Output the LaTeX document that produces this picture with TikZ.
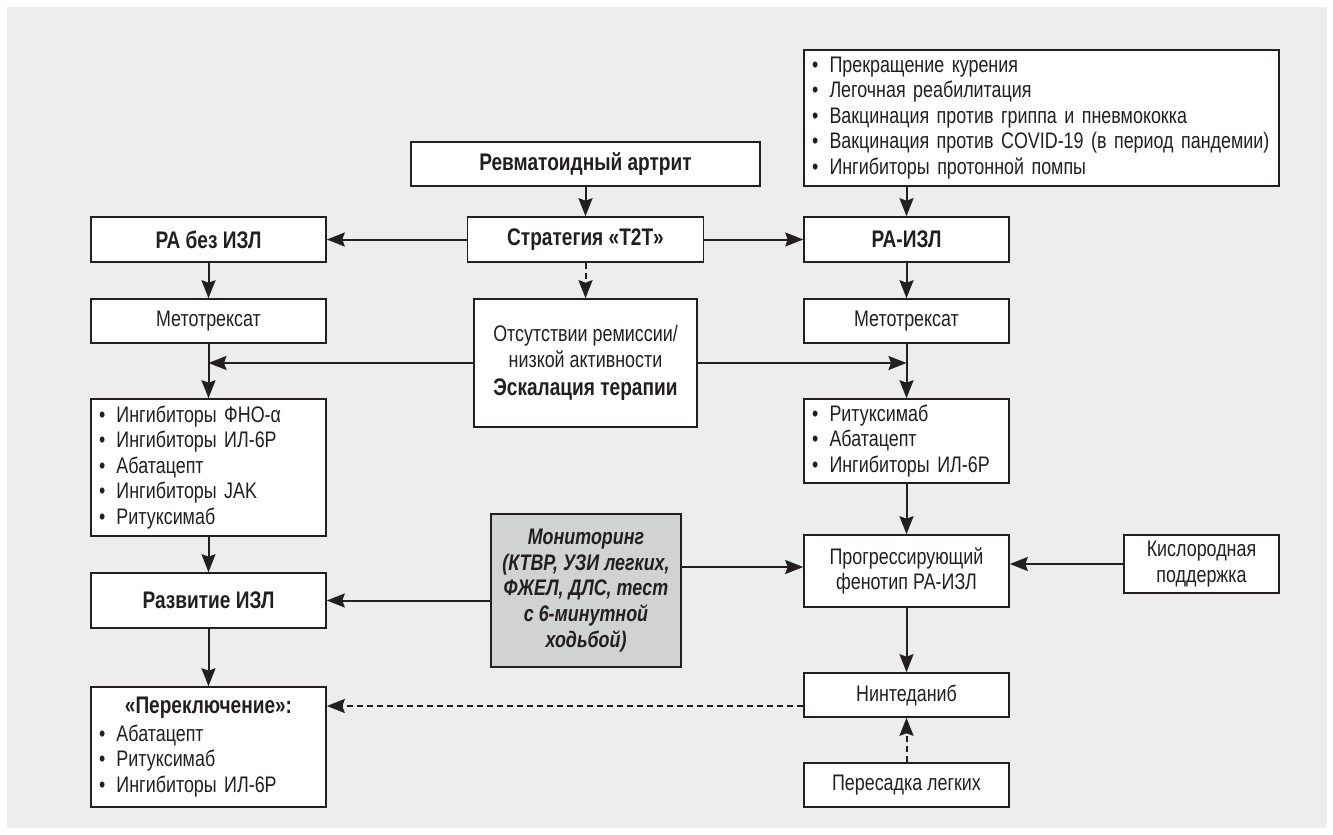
\documentclass[tikz,border=0pt]{standalone}
\usepackage{fontspec}
\setmainfont{Liberation Sans}[FakeStretch=0.795]
\usetikzlibrary{arrows.meta}
\definecolor{ink}{HTML}{231F20}
\definecolor{bgc}{HTML}{EDEDED}
\definecolor{monc}{HTML}{D1D2D4}
\newcommand{\bul}{•\hspace{0.5em}}
\begin{document}
\begin{tikzpicture}[x=1pt,y=-1pt,
 box/.style={draw=ink, line width=1.6pt, fill=white, text=ink, inner sep=0pt, align=center, font=\fontsize{22.5}{25.5}\selectfont},
 head/.style={box, font=\fontsize{24}{27}\selectfont\bfseries},
 lst/.style={box, align=left, inner xsep=8pt},
 arr/.style={draw=ink, line width=2pt, -{Stealth[length=18pt,width=14pt,inset=2.5pt]}},
 darr/.style={arr, dash pattern=on 6pt off 4pt},
]
\fill[white] (0,0) rectangle (1333,835);
\useasboundingbox (0,0) rectangle (1333,835);
\fill[bgc] (7,7) rectangle (1327,828);

\node[head, minimum width=349pt, minimum height=44pt] (rheum) at (585.5,164) {Ревматоидный артрит};
\node[head, minimum width=236pt, minimum height=45pt] (t2t) at (585.5,239.5) {Стратегия «Т2Т»};
\node[head, minimum width=235pt, minimum height=45pt] (nozl) at (208.5,239.5) {РА без ИЗЛ};
\node[head, minimum width=205pt, minimum height=45pt] (raizl) at (906.5,239.5) {РА-ИЗЛ};
\node[lst, text width=459pt, minimum height=136pt] (top) at (1041.5,118) {\bul Прекращение курения\\\bul Легочная реабилитация\\\bul Вакцинация против гриппа и пневмококка\\\bul Вакцинация против COVID-19 (в период пандемии)\\\bul Ингибиторы протонной помпы};
\node[box, minimum width=235pt, minimum height=44pt] (mtxL) at (208.5,321) {Метотрексат};
\node[box, minimum width=205pt, minimum height=44pt] (mtxR) at (906.5,321) {Метотрексат};
\node[box, minimum width=223pt, minimum height=128pt] (esc) at (585.5,363) {Отсутствии ремиссии/\\низкой активности\\[3pt]{\fontsize{24}{27}\selectfont\bfseries Эскалация терапии}};
\node[lst, text width=219pt, minimum height=137pt] (listL) at (208.5,467.5) {\bul Ингибиторы ФНО-α\\\bul Ингибиторы ИЛ-6Р\\\bul Абатацепт\\\bul Ингибиторы JAK\\\bul Ритуксимаб};
\node[lst, text width=189pt, minimum height=84pt] (listR) at (906.5,441) {\bul Ритуксимаб\\\bul Абатацепт\\\bul Ингибиторы ИЛ-6Р};
\node[box, fill=monc, minimum width=190pt, minimum height=153pt, font=\fontsize{22.5}{25.7}\selectfont\bfseries\itshape] (mon) at (586,590.5) {Мониторинг\\(КТВР, УЗИ легких,\\ФЖЕЛ, ДЛС, тест\\с 6-минутной\\ходьбой)};
\node[box, minimum width=205pt, minimum height=72pt] (prog) at (906.5,571) {Прогрессирующий\\фенотип РА-ИЗЛ};
\node[box, minimum width=155pt, minimum height=58pt] (oxy) at (1201.5,564) {Кислородная\\поддержка};
\node[head, minimum width=235pt, minimum height=55pt] (razv) at (208.5,600.5) {Развитие ИЗЛ};
\node[lst, text width=219pt, minimum height=120pt] (sw) at (208.5,747) {\makebox[219pt][c]{\fontsize{24}{27}\selectfont\bfseries «Переключение»:}\\[2pt]\bul Абатацепт\\\bul Ритуксимаб\\\bul Ингибиторы ИЛ-6Р};
\node[box, minimum width=205pt, minimum height=44pt] (nint) at (906.5,695) {Нинтеданиб};
\node[box, minimum width=205pt, minimum height=44pt] (trans) at (906.5,785) {Пересадка легких};

\draw[arr] (rheum.south) -- (t2t.north);
\draw[arr] (t2t.west) -- (nozl.east);
\draw[arr] (t2t.east) -- (raizl.west);
\draw[darr] (t2t.south) -- (esc.north);
\draw[arr] (raizl.north |- top.south) -- (raizl.north);
\draw[arr] (nozl.south) -- (mtxL.north);
\draw[arr] (raizl.south) -- (mtxR.north);
\draw[arr] (mtxL.south) -- (listL.north);
\draw[arr] (mtxR.south) -- (listR.north);
\coordinate (jL) at (esc.west -| mtxL.south);
\coordinate (jR) at (esc.east -| mtxR.south);
\draw[arr] (esc.west) -- (jL);
\draw[arr] (esc.east) -- (jR);
\draw[arr] (listL.south) -- (razv.north);
\draw[arr] (listR.south) -- (prog.north);
\coordinate (mR) at ([yshift=4pt]prog.west);
\draw[arr] (mon.east |- mR) -- (mR);
\draw[arr] (mon.west |- razv.east) -- (razv.east);
\draw[arr] (oxy.west) -- (oxy.west -| prog.east);
\draw[arr] (prog.south) -- (nint.north);
\draw[arr] (razv.south) -- (sw.north);
\coordinate (nW) at ([yshift=-11pt]nint.west);
\draw[darr] (nW) -- (nW -| sw.east);
\draw[darr] (trans.north) -- (nint.south);
\end{tikzpicture}
\end{document}
